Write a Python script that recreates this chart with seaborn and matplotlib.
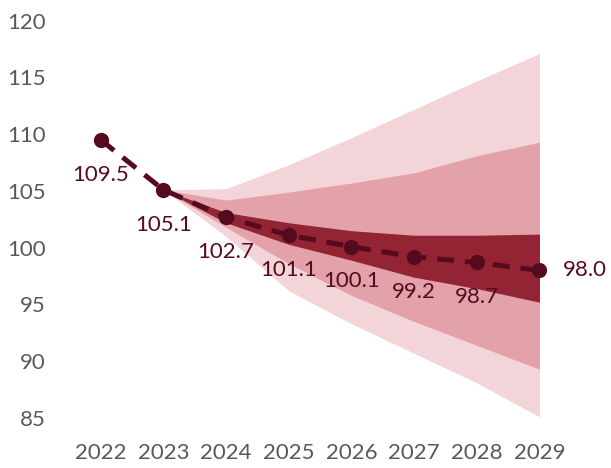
import numpy as np
import pandas as pd
import matplotlib
matplotlib.use("Agg")
import matplotlib.pyplot as plt
import seaborn as sns

# data
years = ["2022", "2023", "2024", "2025", "2026", "2027", "2028", "2029"]
central = [109.5, 105.1, 102.7, 101.1, 100.1, 99.2, 98.7, 98.0]
labels = ["109.5", "105.1", "102.7", "101.1", "100.1", "99.2", "98.7", "98.0"]

# fan bands start at 2023
band_years = ["2023", "2024", "2025", "2026", "2027", "2028", "2029"]
outer_hi = [105.1, 105.2, 107.3, 109.7, 112.2, 114.7, 117.1]
mid_hi = [105.1, 104.2, 104.9, 105.7, 106.6, 108.1, 109.3]
inner_hi = [105.1, 103.1, 102.2, 101.5, 101.1, 101.1, 101.2]
inner_lo = [105.1, 102.2, 100.3, 98.9, 97.4, 96.4, 95.2]
mid_lo = [105.1, 101.8, 98.6, 95.8, 93.5, 91.4, 89.3]
outer_lo = [105.1, 101.0, 96.2, 93.3, 90.7, 88.1, 85.1]

yticks = [85, 90, 95, 100, 105, 110, 115, 120]

light = "#f3d4d9"
medium = "#e3a1a9"
dark = "#922433"
line_col = "#560a1e"
tick_col = "#595959"

sns.set_theme(style="white")
plt.rcParams["font.family"] = ["Lato", "DejaVu Sans"]

fig = plt.figure(figsize=(6.11, 4.68), dpi=100)
ax = fig.add_axes([60 / 611, 50 / 468, 539 / 611, 397.3 / 468])

df = pd.DataFrame({"x": np.arange(len(years)), "value": central})
bx = np.array([years.index(y) for y in band_years])

ax.fill_between(bx, outer_lo, outer_hi, color=light, lw=0)
ax.fill_between(bx, mid_lo, mid_hi, color=medium, lw=0)
ax.fill_between(bx, inner_lo, inner_hi, color=dark, lw=0)

sns.lineplot(data=df, x="x", y="value", ax=ax, color=line_col, lw=3.6,
             marker="o", markersize=11, markeredgewidth=0,
             dashes=False, linestyle=(0, (3.4, 2.2)))

for i, (v, lab) in enumerate(zip(central, labels)):
    if i == len(central) - 1:
        ax.annotate(lab, (i, v), xytext=(17, 0), textcoords="offset points",
                    ha="left", va="center", fontsize=16, color=line_col,
                    annotation_clip=False)
    else:
        ax.annotate(lab, (i, v), xytext=(0, -25), textcoords="offset points",
                    ha="center", va="center", fontsize=16, color=line_col)

ax.set_xlim(-0.65, 7.95)
ax.set_ylim(85, 120)
ax.set_xticks(range(len(years)))
ax.set_xticklabels(years)
ax.set_yticks(yticks)
ax.set_yticklabels([str(t) for t in yticks])
ax.tick_params(axis="both", length=0, labelsize=16, labelcolor=tick_col)
ax.tick_params(axis="y", pad=10)
ax.tick_params(axis="x", pad=18)
ax.set_xlabel("")
ax.set_ylabel("")
sns.despine(ax=ax, left=True, bottom=True)

fig.savefig("out.png", dpi=100)
